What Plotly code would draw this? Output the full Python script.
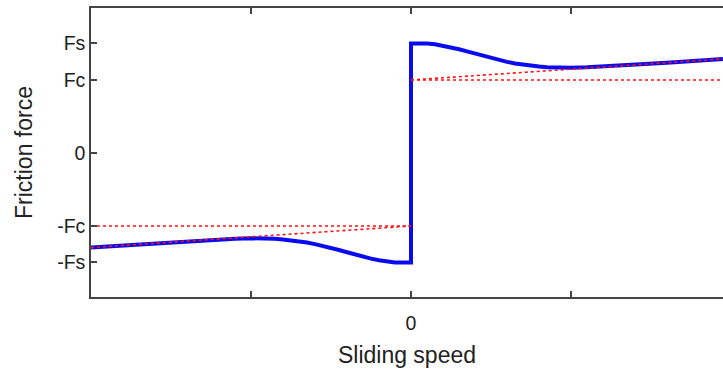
import plotly.graph_objects as go

# Blue curve (Stribeck friction) (x in tick units, y with Fc=1)
pos_x = [0.0, 0.03, 0.06, 0.1, 0.15, 0.2, 0.25, 0.3, 0.35, 0.4, 0.45, 0.5, 0.55, 0.6, 0.65,
         0.7, 0.75, 0.8, 0.85, 0.9, 0.95, 1.0, 1.1, 1.3, 1.6, 1.95]
pos_y = [1.5, 1.501, 1.502, 1.499, 1.488, 1.47, 1.447, 1.42, 1.391, 1.36, 1.329, 1.30, 1.272, 1.248, 1.227,
         1.209, 1.195, 1.184, 1.176, 1.171, 1.169, 1.169, 1.174, 1.194, 1.237, 1.289]
neg_x = [-2.0, -1.6, -1.3, -1.1, -1.0, -0.95, -0.9, -0.85, -0.8, -0.75, -0.7, -0.65, -0.6, -0.55, -0.5,
         -0.45, -0.4, -0.35, -0.3, -0.25, -0.2, -0.15, -0.1, -0.06, -0.03, 0.0]
neg_y = [-1.296, -1.237, -1.194, -1.174, -1.169, -1.169, -1.171, -1.176, -1.184, -1.195, -1.209, -1.227,
         -1.248, -1.272, -1.30, -1.329, -1.36, -1.391, -1.42, -1.447, -1.47, -1.488, -1.499, -1.502,
         -1.501, -1.5]

# Red dotted reference lines (Coulomb and Coulomb + viscous)
coul_pos_x = [0.0, 1.95]
coul_pos_y = [1.0, 1.0]
visc_pos_x = [0.0, 1.95]
visc_pos_y = [1.0, 1.289]
coul_neg_x = [-2.0, 0.0]
coul_neg_y = [-1.0, -1.0]
visc_neg_x = [-2.0, 0.0]
visc_neg_y = [-1.296, -1.0]

x_tickvals = [-2, -1, 0, 1]
x_ticktext = ["", "", "0", ""]
y_tickvals = [1.5, 1.0, 0.0, -1.0, -1.5]
y_ticktext = ["Fs", "Fc", "0", "-Fc", "-Fs"]

FONT = "Liberation Sans, Arial, sans-serif"
AX = "#444444"

fig = go.Figure()
fig.add_trace(go.Scatter(x=neg_x + pos_x, y=neg_y + pos_y, mode="lines",
                         line=dict(color="#0a0af0", width=4), hoverinfo="skip"))
for xs, ys in [(coul_pos_x, coul_pos_y), (visc_pos_x, visc_pos_y),
               (coul_neg_x, coul_neg_y), (visc_neg_x, visc_neg_y)]:
    fig.add_trace(go.Scatter(x=xs, y=ys, mode="lines",
                             line=dict(color="#ff1010", width=1.6, dash="dot"), hoverinfo="skip"))

fig.update_layout(
    width=723, height=372,
    margin=dict(l=91, r=0, t=8, b=75),
    paper_bgcolor="white", plot_bgcolor="white",
    showlegend=False,
    font=dict(family=FONT, size=19.5, color="#222222"),
)
fig.update_xaxes(
    range=[-2.0, 1.95], tickmode="array", tickvals=x_tickvals, ticktext=x_ticktext,
    ticks="inside", ticklen=6, tickwidth=1.5, tickcolor=AX,
    showline=True, linecolor=AX, linewidth=1.5, mirror="ticks",
    showgrid=False, zeroline=False, ticklabelstandoff=8,
    title=dict(text="Sliding speed", standoff=14),
)
fig.update_yaxes(
    range=[-1.973, 1.986], tickmode="array", tickvals=y_tickvals, ticktext=y_ticktext,
    ticks="inside", ticklen=6, tickwidth=1.5, tickcolor=AX,
    showline=True, linecolor=AX, linewidth=1.5,
    showgrid=False, zeroline=False,
    title=dict(text="Friction force", standoff=18),
)

fig.write_html(
    "out.html",
    config={"displayModeBar": False},
    post_script="document.body.style.margin='0';document.body.style.overflow='hidden';",
)
